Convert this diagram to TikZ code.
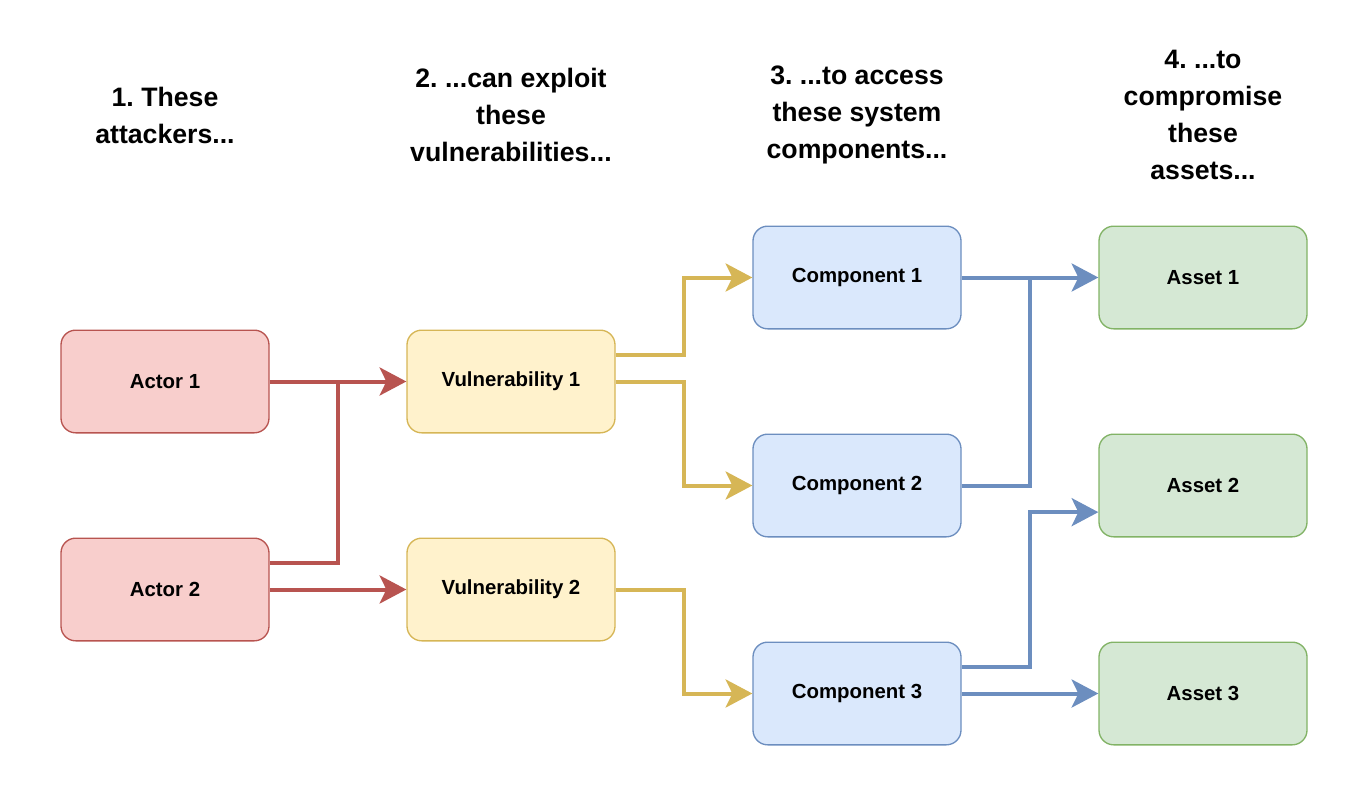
\documentclass[tikz,border=0pt]{standalone}
\usepackage{fontspec}
\setmainfont{Liberation Sans}
\usetikzlibrary{arrows.meta,calc}
\frenchspacing
\definecolor{rfill}{HTML}{F8CECC}\definecolor{rdraw}{HTML}{B85450}
\definecolor{yfill}{HTML}{FFF2CC}\definecolor{ydraw}{HTML}{D6B656}
\definecolor{bfill}{HTML}{DAE8FC}\definecolor{bdraw}{HTML}{6C8EBF}
\definecolor{gfill}{HTML}{D5E8D4}\definecolor{gdraw}{HTML}{82B366}
\tikzset{
  box/.style={rectangle, rounded corners=11pt, line width=1pt, minimum width=156pt, minimum height=77pt, inner sep=0pt, font=\fontsize{15.3}{18}\selectfont\bfseries},
  redbox/.style={box, fill=rfill, draw=rdraw},
  yelbox/.style={box, fill=yfill, draw=ydraw},
  bluebox/.style={box, fill=bfill, draw=bdraw},
  grnbox/.style={box, fill=gfill, draw=gdraw},
  hdr/.style={align=center, inner sep=0pt, font=\fontsize{20}{27.75}\selectfont\bfseries},
  conn/.style={line width=3pt, line join=miter, -{Stealth[length=20pt, width=21pt, inset=5pt]}},
  connplain/.style={line width=3pt, line join=miter},
}
\begin{document}
\begin{tikzpicture}[x=0.75pt,y=-0.75pt]
\useasboundingbox (0,0) rectangle (1356,806);
% headers
\node[hdr] (h1) at (165,115) {1. These\\attackers...};
\node[hdr] (h2) at (511,115) {2. ...can exploit\\these\\vulnerabilities...};
\node[hdr] (h3) at (857,115) {3. ...to access\\these system\\components...};
\node[hdr] (h4) at (1203,115) {4. ...to\\compromise\\these\\assets...};
% boxes
\node[redbox] (a1) at (165,381.5) {Actor 1};
\node[redbox] (a2) at (165,589.5) {Actor 2};
\node[yelbox] (v1) at (511,381.5) {Vulnerability 1};
\node[yelbox] (v2) at (511,589.5) {Vulnerability 2};
\node[bluebox] (c1) at (857,277.5) {Component 1};
\node[bluebox] (c2) at (857,485.5) {Component 2};
\node[bluebox] (c3) at (857,693.5) {Component 3};
\node[grnbox] (s1) at (1203,277.5) {Asset 1};
\node[grnbox] (s2) at (1203,485.5) {Asset 2};
\node[grnbox] (s3) at (1203,693.5) {Asset 3};
% red connectors
\draw[conn, draw=rdraw] (a1.east) -- (v1.west);
\draw[connplain, draw=rdraw] ([yshift=20pt]a2.east) -| ($(a1.east)!0.5!(v1.west)$);
\draw[conn, draw=rdraw] (a2.east) -- (v2.west);
% yellow connectors
\draw[conn, draw=ydraw] ([yshift=20pt]v1.east) -| ($(v1.east)!0.5!(c1.west)$) |- (c1.west);
\draw[conn, draw=ydraw] (v1.east) -| ($(v1.east)!0.5!(c2.west)$) |- (c2.west);
\draw[conn, draw=ydraw] (v2.east) -| ($(v2.east)!0.5!(c3.west)$) |- (c3.west);
% blue connectors
\draw[conn, draw=bdraw] (c1.east) -- (s1.west);
\draw[connplain, draw=bdraw] (c2.east) -| ($(c1.east)!0.5!(s1.west)$);
\draw[conn, draw=bdraw] ([yshift=20pt]c3.east) -| ($(c3.east)!0.5!(s2.west)$) |- ([yshift=-20pt]s2.west);
\draw[conn, draw=bdraw] (c3.east) -- (s3.west);
\end{tikzpicture}
\end{document}
